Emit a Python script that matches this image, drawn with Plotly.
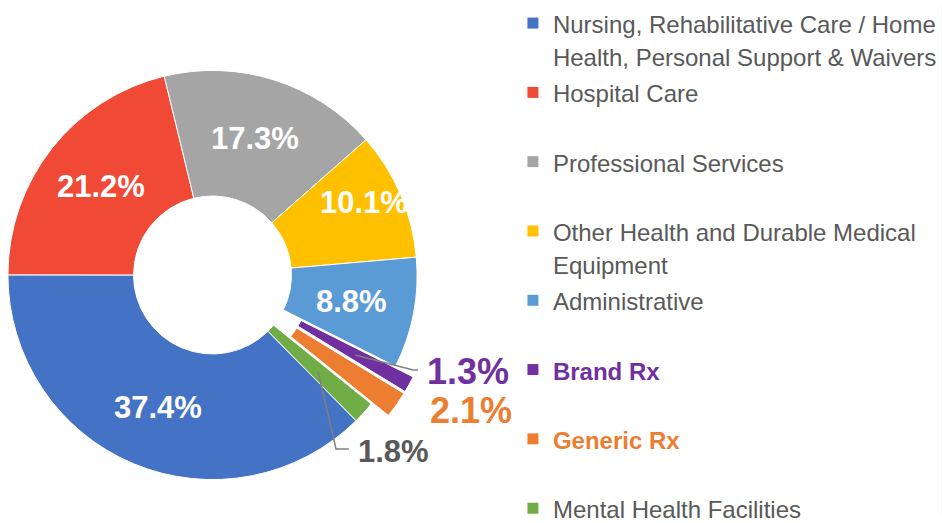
import math
import plotly.graph_objects as go

# ---------------- data ----------------
labels = [
    "Nursing, Rehabilitative Care / Home<br>Health, Personal Support & Waivers",
    "Hospital Care",
    "Professional Services",
    "Other Health and Durable Medical<br>Equipment",
    "Administrative",
    "Brand Rx",
    "Generic Rx",
    "Mental Health Facilities",
]
values = [37.4, 21.2, 17.3, 10.1, 8.8, 1.3, 2.1, 1.8]
colors = ["#4472C4", "#F04A37", "#A5A5A5", "#FFC000", "#5B9BD5", "#7030A0", "#ED7D31", "#70AD47"]
pulled_labels = ["Brand Rx", "Generic Rx"]
outside_labels = ["Brand Rx", "Generic Rx", "Mental Health Facilities"]

# ---------------- layout constants ----------------
W, H = 942, 523
CX, CY, R = 215, 275, 207
HOLE = 0.386
PULL = 0.10
ROT = 135.4
FONT = "Liberation Sans, Arial, sans-serif"
GREY = "#595959"
CLEAR = "rgba(0,0,0,0)"


def px_x(x):
    return x / W


def px_y(y):
    return 1 - y / H


def domain_at(cx, cy):
    return dict(x=[px_x(cx - R), px_x(cx + R)], y=[px_y(cy + R), px_y(cy - R)])


total = sum(values)
mid_angle = {}
acc = 0.0
for lab, v in zip(labels, values):
    mid_angle[lab] = ROT + 360.0 * (acc + v / 2) / total
    acc += v

# legend text: all entries padded to two lines, Rx entries styled
legend_names = []
for lab in labels:
    inner = lab
    if lab == "Brand Rx":
        inner = "<b><span style='color:#7030A0'>Brand Rx</span></b>"
    elif lab == "Generic Rx":
        inner = "<b><span style='color:#ED7D31'>Generic Rx</span></b>"
    parts = inner.split("<br>")
    parts = ["<span style='font-size:24px'>" + p + "</span>" for p in parts]
    if len(parts) == 1 and lab != labels[-1]:
        parts.append("\u00a0")
    legend_names.append("<br>".join(parts))

fig = go.Figure()

# main ring
fig.add_trace(go.Pie(
    labels=legend_names, values=values, sort=False, direction="clockwise", rotation=ROT,
    hole=HOLE, marker=dict(colors=colors, line=dict(color="white", width=1)),
    textinfo="none", domain=domain_at(CX, CY), showlegend=True,
))

# white cover for the original place of the pulled slices
fig.add_trace(go.Pie(
    labels=legend_names, values=values, sort=False, direction="clockwise", rotation=ROT,
    hole=HOLE,
    marker=dict(colors=["white" if l in pulled_labels else CLEAR for l in labels],
                line=dict(color="white", width=[2 if l in pulled_labels else 0 for l in labels])),
    textinfo="none", domain=domain_at(CX, CY), showlegend=False, hoverinfo="skip",
))

# pulled slices, drawn from the same values with an offset centre
for k in pulled_labels:
    th = math.radians(mid_angle[k])
    d = PULL * R
    cx = CX + d * math.sin(th)
    cy = CY - d * math.cos(th)
    fig.add_trace(go.Pie(
        labels=legend_names, values=values, sort=False, direction="clockwise", rotation=ROT,
        hole=HOLE,
        marker=dict(colors=[c if l == k else CLEAR for l, c in zip(labels, colors)],
                    line=dict(color="white", width=[1 if l == k else 0 for l in labels])),
        textinfo="none", domain=domain_at(cx, cy), showlegend=False,
    ))

annotations = []
# inside labels at the middle of the ring
radial = {labels[3]: (0.82, -2.0)}
for lab, v in zip(labels, values):
    if lab in outside_labels:
        continue
    rf, dth = radial.get(lab, ((1 + HOLE) / 2, 0.0))
    th = math.radians(mid_angle[lab] + dth)
    rr = rf * R
    x = CX + rr * math.sin(th)
    y = CY - rr * math.cos(th)
    annotations.append(dict(
        x=px_x(x), y=px_y(y), xref="paper", yref="paper", text=f"{v:.1f}%", showarrow=False,
        font=dict(family=FONT, size=31, color="white", weight="bold"),
        xanchor="center", yanchor="middle",
    ))

# outside labels
out_pos = {"Brand Rx": (474, 371, 36, "#7030A0"),
           "Generic Rx": (477, 410, 36, "#ED7D31"),
           "Mental Health Facilities": (398, 451, 31, GREY)}
for lab, v in zip(labels, values):
    if lab not in out_pos:
        continue
    x, y, s, c = out_pos[lab]
    annotations.append(dict(
        x=px_x(x), y=px_y(y), xref="paper", yref="paper", text=f"{v:.1f}%", showarrow=False,
        font=dict(family=FONT, size=s, color=c, weight="bold"),
        xanchor="center", yanchor="middle",
    ))

# leader lines
shapes = []
leaders = {"Brand Rx": (165, [(418, 370), (423, 370)]),
           "Mental Health Facilities": (144, [(340, 449), (353, 449)])}
for lab, (rr, pts) in leaders.items():
    th = math.radians(mid_angle[lab])
    x0 = CX + rr * math.sin(th)
    y0 = CY - rr * math.cos(th)
    p = f"M {px_x(x0)} {px_y(y0)}" + "".join(f" L {px_x(a)} {px_y(b)}" for a, b in pts)
    shapes.append(dict(type="path", path=p, xref="paper", yref="paper",
                       line=dict(color="#808080", width=1.5)))

fig.update_layout(
    width=W, height=H, margin=dict(l=0, r=0, t=0, b=0),
    paper_bgcolor="white", plot_bgcolor="white",
    annotations=annotations, shapes=shapes,
    legend=dict(x=519 / W, xanchor="left", y=1, yanchor="top", valign="top",
                font=dict(family=FONT, size=25.5, color=GREY), bgcolor="rgba(0,0,0,0)",
                traceorder="normal"),
)

fig.write_html("out.html", config={"displayModeBar": False},
               post_script="document.body.style.margin='0';document.body.style.overflow='hidden';")
